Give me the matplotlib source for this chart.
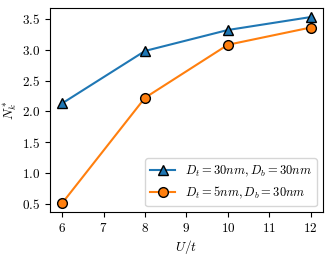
import matplotlib
matplotlib.use("Agg")
import matplotlib.pyplot as plt

plt.rcParams['font.family'] = 'cmr10'
plt.rcParams['mathtext.fontset'] = 'cm'
plt.rcParams['axes.formatter.use_mathtext'] = True
plt.rcParams['font.size'] = 9.5

U = [6, 8, 10, 12]
n_30 = [2.13, 2.98, 3.32, 3.53]
n_5 = [0.51, 2.22, 3.08, 3.36]

fig, ax = plt.subplots(figsize=(3.32, 2.59), dpi=100)
ax.plot(U, n_30, marker='^', markersize=7, markeredgecolor='black',
        color='tab:blue', label=r'$D_t=30nm, D_b=30nm$')
ax.plot(U, n_5, marker='o', markersize=7, markeredgecolor='black',
        color='tab:orange', label=r'$D_t=5nm, D_b=30nm$')
ax.set_xticks(range(6, 13))
ax.set_xlabel(r'$U/t$', labelpad=2)
ax.set_ylabel(r'$N_k^*$', labelpad=2)
ax.legend(loc='lower right', fontsize=9)
fig.subplots_adjust(left=0.15, right=0.973, top=0.97, bottom=0.18)
fig.savefig('out.png', dpi=100)
